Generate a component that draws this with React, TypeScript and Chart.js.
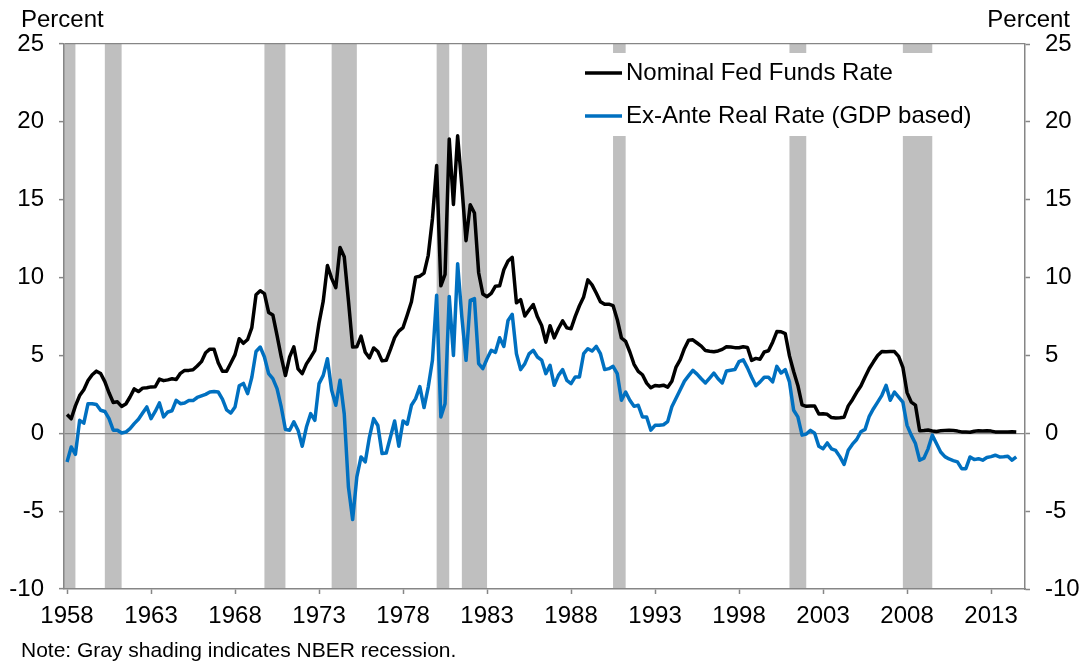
import { useEffect, useRef } from "react";
import { Chart, registerables } from "chart.js";

Chart.register(...registerables);

// ---------- data ----------
const startYear = 1958; // first quarter: 1958Q1
const xTickYears = [1958, 1963, 1968, 1973, 1978, 1983, 1988, 1993, 1998, 2003, 2008, 2013];
const yTickValues = [-10, -5, 0, 5, 10, 15, 20, 25];
const seriesNames = ["Nominal Fed Funds Rate", "Ex-Ante Real Rate (GDP based)"];

// Nominal fed funds rate, quarterly (1958Q1 .. 2014Q3)
const fedFunds = [
  1.20, 0.93, 1.76, 2.42, // 1958
  2.80, 3.39, 3.76, 3.99, // 1959
  3.84, 3.32, 2.60, 1.98, // 1960
  2.02, 1.73, 1.88, 2.33, // 1961
  2.85, 2.68, 2.90, 2.93, // 1962
  2.98, 2.99, 3.48, 3.38, // 1963
  3.43, 3.50, 3.45, 3.85, // 1964
  4.04, 4.04, 4.08, 4.32, // 1965
  4.60, 5.17, 5.40, 5.40, // 1966
  4.53, 3.98, 3.99, 4.51, // 1967
  5.05, 6.07, 5.78, 6.02, // 1968
  6.79, 8.90, 9.15, 8.97, // 1969
  7.76, 7.60, 6.29, 4.90, // 1970
  3.71, 4.91, 5.55, 4.14, // 1971
  3.83, 4.46, 4.87, 5.33, // 1972
  7.09, 8.49, 10.78, 9.95, // 1973
  9.35, 11.93, 11.34, 8.53, // 1974
  5.54, 5.55, 6.24, 5.20, // 1975
  4.84, 5.48, 5.25, 4.65, // 1976
  4.69, 5.39, 6.14, 6.56, // 1977
  6.79, 7.60, 8.45, 10.03, // 1978
  10.09, 10.29, 11.43, 13.78, // 1979
  17.19, 9.47, 10.20, 18.90, // 1980
  14.70, 19.10, 15.87, 12.37, // 1981
  14.68, 14.15, 10.31, 8.95, // 1982
  8.77, 8.98, 9.45, 9.47, // 1983
  10.50, 11.06, 11.30, 8.38, // 1984
  8.58, 7.53, 7.92, 8.27, // 1985
  7.48, 6.92, 5.85, 6.91, // 1986
  6.13, 6.73, 7.22, 6.77, // 1987
  6.71, 7.51, 8.19, 8.76, // 1988
  9.85, 9.53, 9.01, 8.45, // 1989
  8.28, 8.29, 8.20, 7.31, // 1990
  6.12, 5.90, 5.22, 4.43, // 1991
  3.98, 3.76, 3.22, 2.92, // 1992
  3.07, 3.04, 3.09, 2.96, // 1993
  3.34, 4.25, 4.73, 5.45, // 1994
  5.98, 6.00, 5.80, 5.60, // 1995
  5.31, 5.27, 5.24, 5.29, // 1996
  5.39, 5.56, 5.54, 5.50, // 1997
  5.49, 5.56, 5.51, 4.68, // 1998
  4.81, 4.76, 5.22, 5.30, // 1999
  5.85, 6.53, 6.52, 6.40, // 2000
  4.97, 3.97, 3.07, 1.82, // 2001
  1.73, 1.75, 1.75, 1.24, // 2002
  1.25, 1.22, 1.01, 0.98, // 2003
  1.00, 1.03, 1.76, 2.16, // 2004
  2.63, 3.04, 3.62, 4.16, // 2005
  4.59, 4.99, 5.25, 5.24, // 2006
  5.26, 5.25, 4.94, 4.24, // 2007
  2.61, 2.00, 1.81, 0.16, // 2008
  0.18, 0.21, 0.15, 0.12, // 2009
  0.16, 0.18, 0.19, 0.18, // 2010
  0.14, 0.09, 0.08, 0.07, // 2011
  0.13, 0.16, 0.14, 0.16, // 2012
  0.14, 0.09, 0.08, 0.09, // 2013
  0.08, 0.10, 0.09, // 2014
];

// Ex-ante real rate (GDP based), quarterly (1958Q1 .. 2014Q3)
const realRate = [
  -1.84, -0.88, -1.35, 0.83, // 1958
  0.65, 1.90, 1.90, 1.85, // 1959
  1.48, 1.40, 0.94, 0.20, // 1960
  0.20, 0.02, 0.08, 0.30, // 1961
  0.62, 0.90, 1.30, 1.69, // 1962
  0.94, 1.40, 1.95, 1.05, // 1963
  1.37, 1.45, 2.12, 1.90, // 1964
  1.95, 2.10, 2.10, 2.30, // 1965
  2.40, 2.50, 2.65, 2.68, // 1966
  2.65, 2.20, 1.50, 1.30, // 1967
  1.69, 3.05, 3.20, 2.55, // 1968
  3.60, 5.25, 5.54, 4.90, // 1969
  3.83, 3.51, 2.87, 1.69, // 1970
  0.24, 0.20, 0.73, 0.20, // 1971
  -0.83, 0.40, 1.26, 0.83, // 1972
  3.19, 3.72, 4.79, 2.76, // 1973
  1.80, 3.40, 1.26, -3.45, // 1974
  -5.54, -2.80, -1.52, -1.84, // 1975
  -0.24, 0.94, 0.50, -1.30, // 1976
  -1.27, -0.24, 0.79, -0.83, // 1977
  0.79, 0.58, 1.80, 2.23, // 1978
  3.00, 1.65, 2.97, 4.69, // 1979
  8.86, 1.05, 1.90, 8.79, // 1980
  5.00, 10.89, 7.47, 4.69, // 1981
  8.54, 8.65, 4.47, 4.15, // 1982
  4.79, 5.33, 5.20, 6.14, // 1983
  5.58, 7.25, 7.64, 5.11, // 1984
  4.09, 4.47, 5.10, 5.33, // 1985
  4.90, 4.70, 3.83, 4.36, // 1986
  3.08, 3.72, 4.09, 3.40, // 1987
  3.19, 3.62, 3.62, 5.11, // 1988
  5.43, 5.28, 5.58, 5.11, // 1989
  4.09, 4.15, 4.30, 3.83, // 1990
  2.12, 2.65, 2.12, 1.73, // 1991
  1.80, 1.05, 1.05, 0.20, // 1992
  0.51, 0.51, 0.55, 0.75, // 1993
  1.70, 2.25, 2.80, 3.35, // 1994
  3.70, 4.04, 3.80, 3.50, // 1995
  3.23, 3.55, 3.87, 3.50, // 1996
  3.23, 4.00, 4.05, 4.09, // 1997
  4.60, 4.72, 4.20, 3.60, // 1998
  3.05, 3.30, 3.60, 3.60, // 1999
  3.30, 4.30, 3.87, 4.09, // 2000
  3.30, 1.48, 1.05, -0.12, // 2001
  -0.05, 0.19, 0.00, -0.84, // 2002
  -1.00, -0.62, -1.00, -1.10, // 2003
  -1.50, -2.00, -1.09, -0.70, // 2004
  -0.40, 0.10, 0.25, 1.09, // 2005
  1.58, 2.00, 2.44, 3.08, // 2006
  2.12, 2.65, 2.33, 2.00, // 2007
  0.51, -0.12, -0.66, -1.73, // 2008
  -1.60, -1.00, -0.12, -0.66, // 2009
  -1.20, -1.50, -1.65, -1.75, // 2010
  -1.84, -2.27, -2.27, -1.52, // 2011
  -1.69, -1.63, -1.73, -1.55, // 2012
  -1.50, -1.41, -1.52, -1.50, // 2013
  -1.47, -1.73, -1.52, // 2014
];

// NBER recessions (start, end) in fractional years (quarter boundaries)
const recessionStarts = [1957.75, 1960.25, 1969.75, 1973.75, 1980.0, 1981.5, 1990.5, 2001.0, 2007.75];
const recessionEnds = [1958.5, 1961.25, 1971.0, 1975.25, 1980.75, 1983.0, 1991.25, 2002.0, 2009.5];

// ---------- styling ----------
const FONT = "'Liberation Sans', Arial, Helvetica, sans-serif";
const AXIS_GRAY = "#868686";
const BAR_GRAY = "#BFBFBF";
const BLACK = "#000000";
const BLUE = "#0070C0";

const toPoints = (arr: number[]) => arr.map((v, i) => ({ x: startYear + i / 4, y: v }));

const recessionPlugin = {
  id: "recessions",
  beforeDraw(chart: any) {
    const { ctx, chartArea, scales } = chart;
    const xs = scales.x;
    ctx.save();
    ctx.fillStyle = BAR_GRAY;
    recessionStarts.forEach((s, i) => {
      const x1 = Math.max(chartArea.left, xs.getPixelForValue(s));
      const x2 = Math.min(chartArea.right, xs.getPixelForValue(recessionEnds[i]));
      ctx.fillRect(x1, chartArea.top, x2 - x1, chartArea.bottom - chartArea.top);
    });
    ctx.restore();
  },
};

const overlayPlugin = {
  id: "overlay",
  afterDraw(chart: any) {
    const { ctx } = chart;
    ctx.save();
    // legend box
    ctx.fillStyle = "#ffffff";
    ctx.fillRect(578, 53, 412, 83);
    const items = [
      { name: seriesNames[0], color: BLACK, y: 73 },
      { name: seriesNames[1], color: BLUE, y: 116 },
    ];
    items.forEach((it) => {
      ctx.strokeStyle = it.color;
      ctx.lineWidth = 3.5;
      ctx.lineCap = "butt";
      ctx.beginPath();
      ctx.moveTo(585, it.y);
      ctx.lineTo(622, it.y);
      ctx.stroke();
      ctx.fillStyle = "#000";
      ctx.font = `24px ${FONT}`;
      ctx.textAlign = "left";
      ctx.textBaseline = "middle";
      ctx.fillText(it.name, 626, it.y);
    });
    // axis unit labels
    ctx.fillStyle = "#000";
    ctx.font = `24px ${FONT}`;
    ctx.textBaseline = "alphabetic";
    ctx.textAlign = "left";
    ctx.fillText("Percent", 21, 27);
    ctx.textAlign = "right";
    ctx.fillText("Percent", 1070, 27);
    // note
    ctx.textAlign = "left";
    ctx.font = `21px ${FONT}`;
    ctx.fillText("Note: Gray shading indicates NBER recession.", 21, 657);
    ctx.restore();
  },
};

export default function App() {
  const ref = useRef<HTMLCanvasElement | null>(null);

  useEffect(() => {
    if (!ref.current) return;
    const tickFont = { family: FONT, size: 24 };
    const chart = new Chart(ref.current, {
      type: "line",
      data: {
        datasets: [
          {
            label: seriesNames[0],
            data: toPoints(fedFunds),
            borderColor: BLACK,
            borderWidth: 3.5,
            pointRadius: 0,
            tension: 0,
            borderJoinStyle: "round",
            order: 1,
          },
          {
            label: seriesNames[1],
            data: toPoints(realRate),
            borderColor: BLUE,
            borderWidth: 3.5,
            pointRadius: 0,
            tension: 0,
            borderJoinStyle: "round",
            order: 0,
          },
        ],
      },
      options: {
        animation: false,
        responsive: false,
        devicePixelRatio: 1,
        layout: { padding: { top: 44, left: 0, right: 0, bottom: 0 } },
        plugins: { legend: { display: false }, tooltip: { enabled: false } },
        scales: {
          x: {
            type: "linear",
            position: "bottom",
            min: 1957.82,
            max: 2015.02,
            afterBuildTicks: (s: any) => {
              s.ticks = xTickYears.map((v) => ({ value: v }));
            },
            afterFit: (s: any) => {
              s.height = 75;
            },
            ticks: {
              callback: (v: any) => String(v),
              font: tickFont,
              color: "#000",
              padding: 8,
              maxRotation: 0,
              autoSkip: false,
            },
            grid: {
              drawOnChartArea: false,
              drawTicks: true,
              tickLength: 5,
              tickColor: AXIS_GRAY,
              tickWidth: 1.5,
            },
            border: { display: true, color: AXIS_GRAY, width: 1.5 },
          },
          y: {
            type: "linear",
            position: "left",
            min: -10,
            max: 25,
            afterBuildTicks: (s: any) => {
              s.ticks = yTickValues.map((v) => ({ value: v }));
            },
            afterFit: (s: any) => {
              s.width = 64;
            },
            ticks: {
              callback: (v: any) => String(v),
              font: tickFont,
              color: "#000",
              padding: 15,
            },
            grid: {
              color: (c: any) =>
                c.tick && (c.tick.value === 0 || c.tick.value === 25) ? AXIS_GRAY : "rgba(0,0,0,0)",
              lineWidth: 1.25,
              drawTicks: true,
              tickLength: 5,
              tickColor: AXIS_GRAY,
              tickWidth: 1.5,
            },
            border: { display: true, color: AXIS_GRAY, width: 1.5 },
          },
          y2: {
            type: "linear",
            position: "right",
            min: -10,
            max: 25,
            afterBuildTicks: (s: any) => {
              s.ticks = yTickValues.map((v) => ({ value: v }));
            },
            afterFit: (s: any) => {
              s.width = 58;
            },
            ticks: {
              callback: (v: any) => String(v),
              font: tickFont,
              color: "#000",
              padding: 15,
            },
            grid: {
              drawOnChartArea: false,
              drawTicks: true,
              tickLength: 5,
              tickColor: AXIS_GRAY,
              tickWidth: 1.5,
            },
            border: { display: true, color: AXIS_GRAY, width: 1.5 },
          },
        },
      } as any,
      plugins: [recessionPlugin, overlayPlugin],
    });
    return () => chart.destroy();
  }, []);

  return (
    <div style={{ position: "absolute", left: 0, top: 0, width: 1083, height: 664, background: "#fff" }}>
      <canvas ref={ref} width={1083} height={664} style={{ display: "block" }} />
    </div>
  );
}
